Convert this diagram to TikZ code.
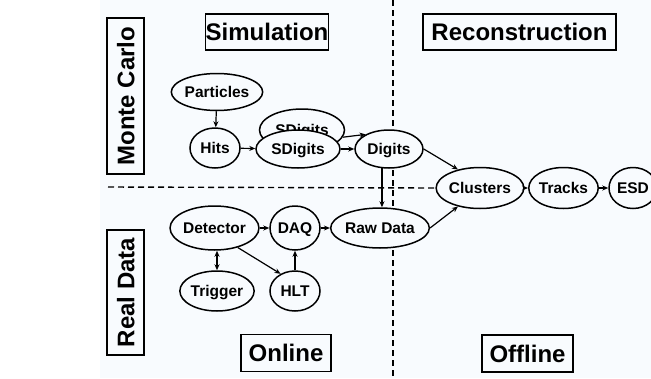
\documentclass[tikz,border=0pt]{standalone}
\usepackage{fontspec}
\setmainfont{Liberation Sans}
\usetikzlibrary{shapes.geometric,arrows.meta}
\definecolor{paper}{RGB}{248,251,254}
\begin{document}
\begin{tikzpicture}[x=1pt,y=-1pt,
  blob/.style={ellipse,draw,line width=1.5pt,fill=paper,inner sep=0pt,
    text height=11.5pt,text depth=0pt,
    font=\bfseries\fontsize{15.5}{15.5}\selectfont},
  title/.style={draw,line width=1.5pt,inner sep=0pt,
    text height=17.5pt,text depth=0pt,
    font=\bfseries\fontsize{24}{24}\selectfont},
  tip/.tip={Stealth[length=6pt,width=5pt]},
  arr/.style={-tip,line width=1.2pt},
  sep/.style={dash pattern=on 6pt off 4pt,line width=1.4pt}]
\useasboundingbox (0,0) rectangle (651,378);
\fill[white] (0,0) rectangle (651,378);
\fill[paper] (100,0) rectangle (651,378);

% online / offline divider
\draw[sep] (393,0) -- (393,378);

% row headers
\node[title,rotate=90,minimum width=156pt,minimum height=37pt] (mc) at (125.5,96) {Monte Carlo};
\node[title,rotate=90,minimum width=125pt,minimum height=37pt] (rd) at (125.5,292.5) {Real Data};
% column headers
\node[title,minimum width=120pt,minimum height=36pt] (sim) at (267,32) {Simulation};
\node[title,minimum width=193pt,minimum height=36pt] (rec) at (519.5,32) {Reconstruction};
\node[title,minimum width=90pt,minimum height=37pt] (onl) at (286,353) {Online};
\node[title,minimum width=91pt,minimum height=37pt] (off) at (527.5,353.5) {Offline};

% simulation chain
\node[blob,minimum width=90pt,minimum height=37pt] (part) at (217,92) {Particles};
\node[blob,minimum width=50pt,minimum height=40pt] (hits) at (215,148) {Hits};
\node[blob,minimum width=85pt,minimum height=42pt] (sdb) at (302,130) {SDigits};
\node[blob,minimum width=84pt,minimum height=38pt] (sdf) at (298,149) {SDigits};
\node[blob,minimum width=68pt,minimum height=38pt] (dig) at (389,149) {Digits};

% reconstruction chain
\node[blob,minimum width=74pt,minimum height=41pt] (clu) at (480,188) {Clusters};
\node[blob,minimum width=63pt,minimum height=41pt] (trk) at (563.5,188) {Tracks};
\node[blob,minimum width=48pt,minimum height=41pt] (esd) at (633,188) {ESD};

% real data chain
\node[blob,minimum width=86pt,minimum height=44pt] (det) at (214.5,228) {Detector};
\node[blob,minimum width=50pt,minimum height=44pt] (daq) at (295,228) {DAQ};
\node[blob,minimum width=90pt,minimum height=40pt] (raw) at (380,228) {Raw Data};
\node[blob,minimum width=70pt,minimum height=40pt] (trg) at (217,291) {Trigger};
\node[blob,minimum width=50pt,minimum height=40pt] (hlt) at (295,291) {HLT};

% Monte Carlo / real data divider
\coordinate (hl) at (108,187);
\draw[sep] (hl) -- (clu.west);

% connectors
\draw[arr] (part) -- (hits);
\draw[arr] (hits) -- (sdf);
\draw[arr] (sdf) -- (dig);
\draw[arr] (sdb.-10) -- (dig.148);
\draw[arr] (dig.250) -- (dig.250 |- raw.north);
\draw[arr] (dig.east) -- (clu.140);
\draw[arr] (raw.east) -- (clu.220);
\draw[arr] (clu) -- (trk);
\draw[arr] (trk) -- (esd);
\draw[arr] (det) -- (daq);
\draw[arr] (daq) -- (raw);
\draw[tip-tip,line width=1.2pt] (det.south -| trg.north) -- (trg.north);
\draw[arr] (det.-40) -- (hlt.130);
\draw[arr] (hlt) -- (daq);
\end{tikzpicture}
\end{document}
